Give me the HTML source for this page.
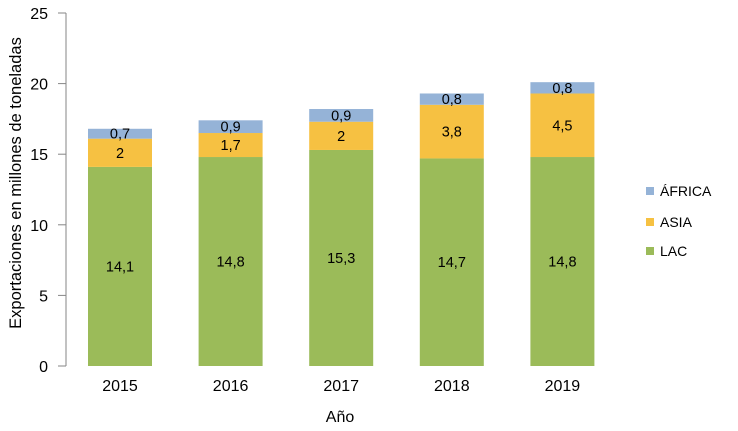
<!DOCTYPE html>
<html><head><meta charset="utf-8"><style>
body{margin:0;background:#fff}
svg{display:block;font-family:"Liberation Sans",Arial,sans-serif}
</style></head><body>
<svg id="chart" width="738" height="431" viewBox="0 0 738 431">
<line x1="66" y1="13" x2="66" y2="366" stroke="#868686" stroke-width="1"/>
<g id="yticks"></g>
<g id="bars"></g>
<g id="xlabels"></g>
<text x="340" y="422" text-anchor="middle" font-size="16" fill="#000">Año</text>
<text transform="translate(21,183) rotate(-90)" text-anchor="middle" font-size="16.5" fill="#000">Exportaciones en millones de toneladas</text>
<g id="legend"></g>
</svg>
<script>
const years = ["2015","2016","2017","2018","2019"];
const lac = [14.1, 14.8, 15.3, 14.7, 14.8];
const asia = [2, 1.7, 2, 3.8, 4.5];
const africa = [0.7, 0.9, 0.9, 0.8, 0.8];
const yTicks = [0,5,10,15,20,25];
const NS="http://www.w3.org/2000/svg";
const y0=366, pxPerUnit=(366-13)/25;
const y=v=>y0-v*pxPerUnit;
const xc=i=>120+i*110.6;
const bw=64;
function mk(tag,attrs,parent){const e=document.createElementNS(NS,tag);for(const k in attrs)e.setAttribute(k,attrs[k]);parent.appendChild(e);return e;}
const fmt=v=>String(v).replace('.',',');
const yt=document.getElementById('yticks');
yTicks.forEach(t=>{
  const l=mk('line',{x1:58,x2:66,y1:y(t),y2:y(t),stroke:'#868686'},yt);
  
  
  const tx=mk('text',{x:48,y:y(t)+6,'text-anchor':'end','font-size':16},yt);
  tx.textContent=t;
  
  
});
const series=[{name:'lac',vals:lac,color:'#9BBB59'},{name:'asia',vals:asia,color:'#F6C142'},{name:'africa',vals:africa,color:'#95B3D7'}];
const bg=document.getElementById('bars');
years.forEach((yr,i)=>{
  let base=0;
  series.forEach(s=>{
    const v=s.vals[i];
    const r=mk('rect',{x:xc(i)-bw/2,y:y(base+v),width:bw,height:v*pxPerUnit,fill:s.color},bg);
    
    
    const t=mk('text',{x:xc(i),y:y(base+v/2)+5,'text-anchor':'middle','font-size':14.5},bg);
    t.textContent=fmt(v);
    
    
    base+=v;
  });
  const xl=mk('text',{x:xc(i),y:391,'text-anchor':'middle','font-size':16},document.getElementById('xlabels'));
  xl.textContent=yr;
  
  
});
const lg=document.getElementById('legend');
[['ÁFRICA','#95B3D7',191],['ASIA','#F6C142',222],['LAC','#9BBB59',251]].forEach(([n,c,cy])=>{
  const r=mk('rect',{x:646,y:cy-4,width:8,height:8,fill:c},lg);
  
  
  const t=mk('text',{x:660,y:cy+5,'font-size':14},lg);
  t.textContent=n;
  
  
});
</script>
</body></html>
